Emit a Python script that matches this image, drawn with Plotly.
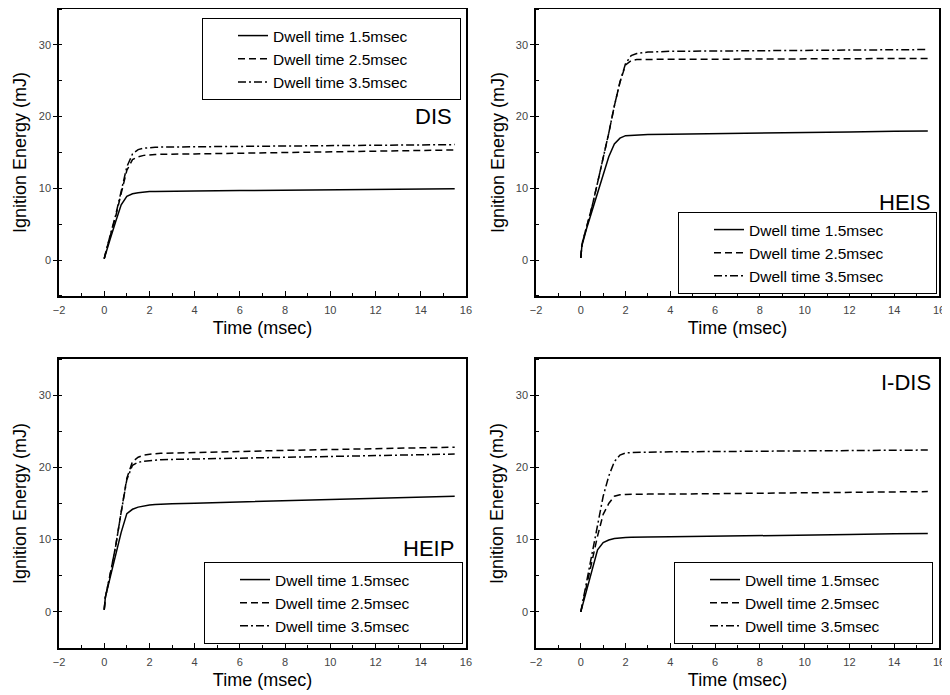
import plotly.graph_objects as go
from plotly.subplots import make_subplots

# ---------------- data ----------------
time_ms = [0, 0.05, 0.25, 0.5, 0.75, 1.0, 1.25, 1.5, 1.75, 2.0, 2.25, 2.5, 3, 4, 6, 8, 10, 12, 14, 15.5]

series_names = ["Dwell time 1.5msec", "Dwell time 2.5msec", "Dwell time 3.5msec"]
panel_labels = ["DIS", "HEIS", "HEIP", "I-DIS"]

dis_15 = [0.2, 0.8, 2.8, 5.3, 7.7, 8.9, 9.25, 9.4, 9.5, 9.55, 9.58, 9.6, 9.6, 9.65, 9.7, 9.75, 9.8, 9.85, 9.9, 9.95]
dis_25 = [0.2, 0.9, 3.2, 6.0, 9.3, 12.5, 14.0, 14.4, 14.6, 14.7, 14.72, 14.75, 14.8, 14.8, 14.9, 15.0, 15.1, 15.2, 15.3, 15.35]
dis_35 = [0.2, 0.9, 3.3, 6.2, 9.6, 13.0, 14.8, 15.4, 15.6, 15.7, 15.72, 15.75, 15.8, 15.8, 15.85, 15.9, 15.95, 16.0, 16.05, 16.1]

heis_15 = [0.3, 2.0, 4.3, 6.8, 9.4, 12.0, 14.4, 16.2, 17.0, 17.35, 17.4, 17.45, 17.5, 17.55, 17.6, 17.7, 17.8, 17.85, 17.95, 18.0]
heis_25 = [0.3, 2.2, 4.5, 7.4, 10.8, 14.2, 17.7, 21.5, 24.8, 27.2, 27.8, 27.95, 28.0, 28.0, 28.0, 28.05, 28.05, 28.05, 28.1, 28.1]
heis_35 = [0.3, 2.2, 4.5, 7.4, 10.8, 14.2, 17.7, 21.5, 24.8, 27.4, 28.5, 28.8, 29.0, 29.1, 29.15, 29.2, 29.25, 29.3, 29.3, 29.35]

heip_15 = [0.3, 2.0, 4.6, 7.7, 11.0, 13.6, 14.2, 14.5, 14.7, 14.8, 14.85, 14.9, 14.95, 15.05, 15.2, 15.35, 15.5, 15.65, 15.85, 16.0]
heip_25 = [0.3, 2.0, 5.0, 9.0, 13.8, 18.5, 20.8, 21.4, 21.7, 21.85, 21.9, 21.95, 22.0, 22.05, 22.2, 22.35, 22.45, 22.55, 22.7, 22.8]
heip_35 = [0.3, 2.0, 5.0, 9.0, 13.8, 18.3, 20.3, 20.7, 20.85, 20.95, 21.0, 21.05, 21.1, 21.15, 21.3, 21.4, 21.5, 21.6, 21.75, 21.85]

idis_15 = [0.0, 0.6, 3.0, 6.0, 8.6, 9.6, 9.95, 10.15, 10.25, 10.3, 10.32, 10.35, 10.38, 10.4, 10.45, 10.5, 10.6, 10.7, 10.8, 10.85]
idis_25 = [0.0, 0.7, 3.5, 7.0, 10.5, 13.5, 15.0, 16.0, 16.2, 16.25, 16.28, 16.3, 16.3, 16.3, 16.35, 16.4, 16.45, 16.5, 16.6, 16.65]
idis_35 = [0.0, 0.8, 4.0, 8.0, 12.5, 16.0, 18.8, 20.8, 21.7, 22.0, 22.05, 22.1, 22.1, 22.15, 22.2, 22.25, 22.3, 22.3, 22.35, 22.4]

x_ticks = [-2, 0, 2, 4, 6, 8, 10, 12, 14, 16]
y_ticks = [0, 10, 20, 30]

panels = [
    (dis_15, dis_25, dis_35),
    (heis_15, heis_25, heis_35),
    (heip_15, heip_25, heip_35),
    (idis_15, idis_25, idis_35),
]

# ---------------- figure ----------------
FONT = "Liberation Sans, Arial, sans-serif"
dashes = ["solid", "7px,4px", "8px,3px,2px,3px"]
W, H = 942, 687  # page body adds an 8px margin in the 950x695 window

fig = make_subplots(rows=2, cols=2)

legend_ids = ["legend", "legend2", "legend3", "legend4"]
pad = "\u00a0" * 11
for i, data in enumerate(panels):
    r, c = i // 2 + 1, i % 2 + 1
    for name, vals, dash in zip(series_names, data, dashes):
        fig.add_trace(
            go.Scatter(
                x=time_ms, y=vals, mode="lines", name=name + pad,
                line=dict(color="black", width=1.5, dash=dash),
                legend=legend_ids[i], showlegend=True,
            ),
            row=r, col=c,
        )

x_domains = [[0.05414, 0.48620], [0.56051, 0.98832]]
y_domains = [[0.58079, 0.99854], [0.06841, 0.48908]]

for i in range(4):
    r, c = i // 2 + 1, i % 2 + 1
    fig.update_xaxes(
        row=r, col=c, domain=x_domains[c - 1], range=[-2, 16], automargin=False,
        tickvals=x_ticks, ticks="inside", ticklen=5, tickwidth=1.2, tickcolor="black",
        minor=dict(dtick=1, ticks="inside", ticklen=3, tickcolor="black"),
        showline=True, linecolor="black", linewidth=1.5, mirror=True,
        showgrid=False, zeroline=False,
        tickfont=dict(family=FONT, size=11, color="#444"),
        ticklabelstandoff=3,
        title=dict(text="Time (msec)", font=dict(family=FONT, size=18, color="black"), standoff=6),
    )
    fig.update_yaxes(
        row=r, col=c, domain=y_domains[r - 1], range=[-5, 35], automargin=False,
        tickvals=y_ticks, ticks="outside", ticklen=4, tickwidth=1.2, tickcolor="black",
        minor=dict(dtick=5, ticks="inside", ticklen=3, tickcolor="black"),
        showline=True, linecolor="black", linewidth=1.5, mirror=True,
        showgrid=False, zeroline=False,
        tickfont=dict(family=FONT, size=11, color="#444"),
        ticklabelstandoff=0,
        title=dict(text="Ignition Energy (mJ)", font=dict(family=FONT, size=18, color="black"), standoff=7),
    )

legend_pos = [
    (0.20594, 0.98544, "top"),
    (0.71125, 0.70306, "top"),
    (0.20807, 0.07424, "bottom"),
    (0.70701, 0.07424, "bottom"),
]
leg_common = dict(
    bgcolor="white", bordercolor="black", borderwidth=1,
    font=dict(family=FONT, size=15.5, color="black"),
    xanchor="left", indentation=30, tracegroupgap=0,
)
legend_layout = {}
for lid, (lx, ly, anchor) in zip(legend_ids, legend_pos):
    legend_layout[lid] = dict(x=lx, y=ly, yanchor=anchor, **leg_common)
fig.update_layout(**legend_layout)

label_pos = [(0.47346, 0.84134), (0.98089, 0.71761), (0.47558, 0.21397), (0.98195, 0.45560)]
for lab, (lx, ly) in zip(panel_labels, label_pos):
    fig.add_annotation(
        text=lab, x=lx, y=ly, xref="paper", yref="paper",
        xanchor="right", yanchor="middle", showarrow=False,
        font=dict(family=FONT, size=22, color="black"),
    )

fig.update_layout(
    width=W, height=H,
    margin=dict(l=0, r=0, t=0, b=0),
    paper_bgcolor="white", plot_bgcolor="white",
    font=dict(family=FONT),
)

fig.write_html("out.html")
